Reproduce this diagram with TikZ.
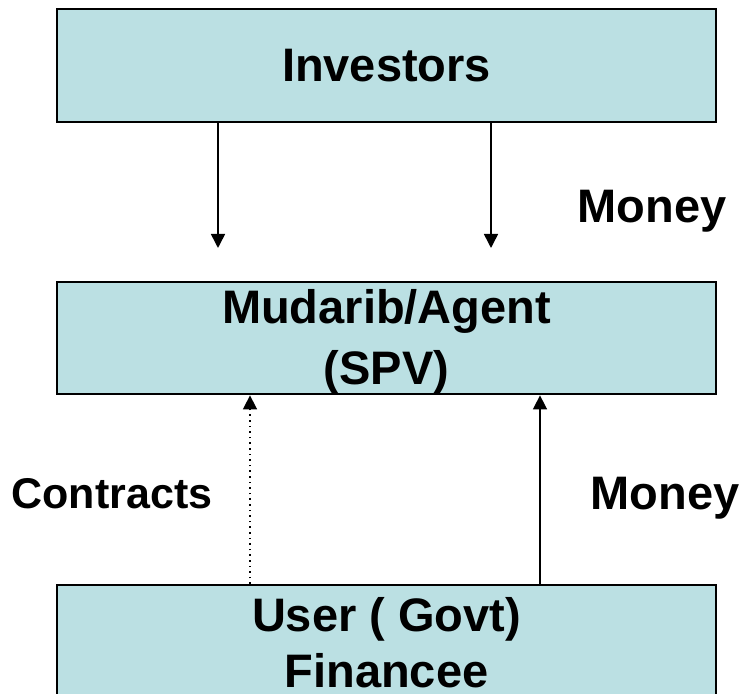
\documentclass[tikz,border=0pt]{standalone}
\usepackage{fontspec}
\setmainfont{Liberation Sans}
\usetikzlibrary{arrows.meta}
\definecolor{boxfill}{HTML}{BBE0E3}
\begin{document}
\begin{tikzpicture}[x=1pt,y=1pt,
    party/.style={draw,line width=1pt,fill=boxfill,minimum width=329.5pt,
      inner sep=0pt,align=center,font=\fontsize{23.5}{28}\selectfont\bfseries},
    lbl/.style={font=\fontsize{23.5}{28}\selectfont\bfseries},
    flow/.style={line width=0.8pt,-{Triangle[length=7pt,width=7pt]}}]
  \useasboundingbox (0,0) rectangle (372,347);
  \node[party,minimum height=56.5pt] (INV) at (193.25,314.25) {Investors};
  \node[party,minimum height=56pt,font=\fontsize{23.5}{30.5}\selectfont\bfseries]
    (SPV) at (193.25,178) {\raisebox{4pt}{\vphantom{Mudarib/Agent}}Mudarib/Agent\\(SPV)};
  \node[party,minimum height=61pt] (USR) at (193.25,24)
    {User ( Govt)\\Financee\raisebox{-3pt}{\vphantom{Financee}}};

  \coordinate (T1) at (109,223);
  \coordinate (T2) at (245.5,223);
  \draw[flow] (INV.south -| T1) -- (T1);
  \draw[flow] (INV.south -| T2) -- (T2);
  \node[lbl] (M1) at (326,241.5) {Money};

  \coordinate (B1) at (125,0);
  \coordinate (B2) at (270,0);
  \draw[flow,dotted] (USR.north -| B1) -- (SPV.south -| B1);
  \draw[flow] (USR.north -| B2) -- (SPV.south -| B2);
  \node[lbl,font=\fontsize{21.5}{26}\selectfont\bfseries] (CON) at (56,100) {Contracts};
  \node[lbl] (M2) at (332.5,98) {Money};
\end{tikzpicture}
\end{document}
